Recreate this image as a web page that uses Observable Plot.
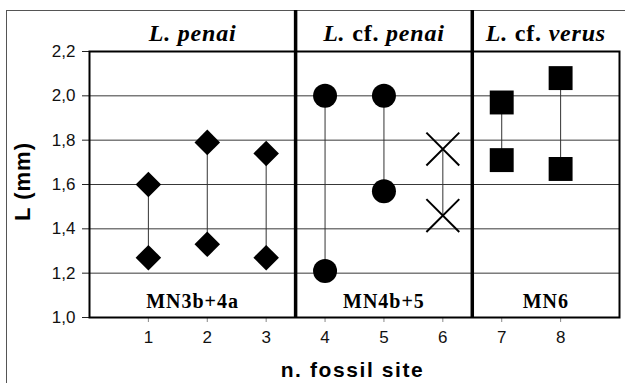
<!DOCTYPE html>
<html>
<head>
<meta charset="utf-8">
<script src="https://cdn.jsdelivr.net/npm/d3@7"></script>
<script src="https://cdn.jsdelivr.net/npm/@observablehq/plot@0.6"></script>
<style>
  html, body { margin: 0; padding: 0; background: #fff; }
  #wrap { position: relative; width: 625px; height: 383px; overflow: hidden; }
  #outer { position: absolute; left: 6px; top: 10px; right: -2px; bottom: -2px;
           border-left: 1.5px solid #555; border-top: 1.5px solid #555; pointer-events: none; }
  #wrap svg { position: absolute; left: 0; top: 0; }
</style>
</head>
<body>
<div id="wrap"><div id="outer"></div></div>
<script>
// ---- data ----
const groups = ["L. penai", "L. cf. penai", "L. cf. verus"];
const periods = ["MN3b+4a", "MN4b+5", "MN6"];
const groupBounds = [0, 3.5, 6.5, 9];
const sites = [1, 2, 3, 4, 5, 6, 7, 8];
const upperL = [1.60, 1.79, 1.74, 2.00, 2.00, 1.76, 1.97, 2.08];
const lowerL = [1.27, 1.33, 1.27, 1.21, 1.57, 1.46, 1.71, 1.67];
const siteShape = ["diamond", "diamond", "diamond", "circle", "circle", "cross", "square", "square"];
const yTicks = [1.0, 1.2, 1.4, 1.6, 1.8, 2.0, 2.2];
const yLabel = "L (mm)";
const xLabel = "n. fossil site";

// ---- derived tables ----
const ranges = sites.map((s, i) => ({site: s, lo: lowerL[i], hi: upperL[i]}));
const points = sites.flatMap((s, i) => [
  {site: s, L: upperL[i], shape: siteShape[i]},
  {site: s, L: lowerL[i], shape: siteShape[i]}
]);
const headers = groups.map((g, i) => ({
  label: g, period: periods[i], x: (groupBounds[i] + groupBounds[i + 1]) / 2
}));
const dividers = groupBounds.slice(1, -1);
const fmt = d => d.toFixed(1).replace(".", ",");
const serif = "'Liberation Serif', 'Times New Roman', serif";

const chart = Plot.plot({
  width: 625,
  height: 383,
  marginLeft: 89,
  marginRight: 6,
  marginTop: 51,
  marginBottom: 66,
  style: {background: "transparent", fontFamily: "Arial, 'Liberation Sans', sans-serif"},
  x: {domain: [0, 9]},
  y: {domain: [1.0, 2.2]},
  marks: [
    Plot.gridY(yTicks.slice(1, -1), {stroke: "#222", strokeOpacity: 0.9, strokeWidth: 1}),
    Plot.axisY(yTicks, {tickFormat: fmt, tickSize: 7, tickPadding: 7, fontSize: 17, label: null, stroke: "#222", color: "#111"}),
    Plot.axisX(sites, {tickSize: 5, tickPadding: 8, fontSize: 17, label: null, stroke: "#888", color: "#111"}),
    Plot.ruleX(ranges, {x: "site", y1: "lo", y2: "hi", stroke: "#333", strokeWidth: 1}),
    Plot.dot(points.filter(d => d.shape === "diamond"), {x: "site", y: "L", symbol: "diamond2", r: 11.5, fill: "black"}),
    Plot.dot(points.filter(d => d.shape === "circle"), {x: "site", y: "L", symbol: "circle", r: 12, fill: "black"}),
    Plot.dot(points.filter(d => d.shape === "square"), {x: "site", y: "L", symbol: "square", r: 13.5, fill: "black"}),
    Plot.dot(points.filter(d => d.shape === "cross"), {x: "site", y: "L", symbol: "times", r: 15, stroke: "black", strokeWidth: 2}),
    Plot.frame({stroke: "black", strokeWidth: 2}),
    Plot.ruleX(dividers, {stroke: "black", strokeWidth: 3.5, insetTop: -41}),
    Plot.text(headers, {x: "x", text: "label", frameAnchor: "top", lineAnchor: "middle", textAnchor: "middle", dy: -18, fontSize: 24,
      fontWeight: "bold", fontFamily: serif, ariaLabel: () => "header", fill: "black"}),
    Plot.text(headers, {x: "x", text: "period", frameAnchor: "bottom", lineAnchor: "middle", textAnchor: "middle", dy: -16, fontSize: 20,
      fontWeight: "bold", fontFamily: serif, ariaLabel: () => "period", fill: "black"}),
    Plot.text([yLabel], {frameAnchor: "left", textAnchor: "middle", lineAnchor: "middle", dx: -67, dy: -3, rotate: -90,
      fontSize: 22, fontWeight: "bold", ariaLabel: () => "ylabel", fill: "black"}),
    Plot.text([xLabel], {frameAnchor: "bottom", textAnchor: "middle", lineAnchor: "middle", dx: -2, dy: 53,
      fontSize: 21, fontWeight: "bold", ariaLabel: () => "xlabel", fill: "black"})
  ]
});

const svg = d3.select(chart);
// style header words: genus and species italic, "cf." upright
svg.selectAll('text[aria-label="header"]').each(function () {
  const t = d3.select(this);
  const words = t.text().split(" ");
  t.text(null).style("letter-spacing", "0.8px");
  words.forEach((w, i) => {
    t.append("tspan")
      .attr("font-style", w === "cf." ? "normal" : "italic")
      .text(w + (i < words.length - 1 ? " " : ""));
  });
});
svg.selectAll('text[aria-label="period"]').style("letter-spacing", "1px");
svg.selectAll('text[aria-label="xlabel"]').style("letter-spacing", "1.6px");
svg.selectAll('text[aria-label="ylabel"]').style("letter-spacing", "1px");

document.getElementById("wrap").appendChild(chart);
</script>
</body>
</html>
